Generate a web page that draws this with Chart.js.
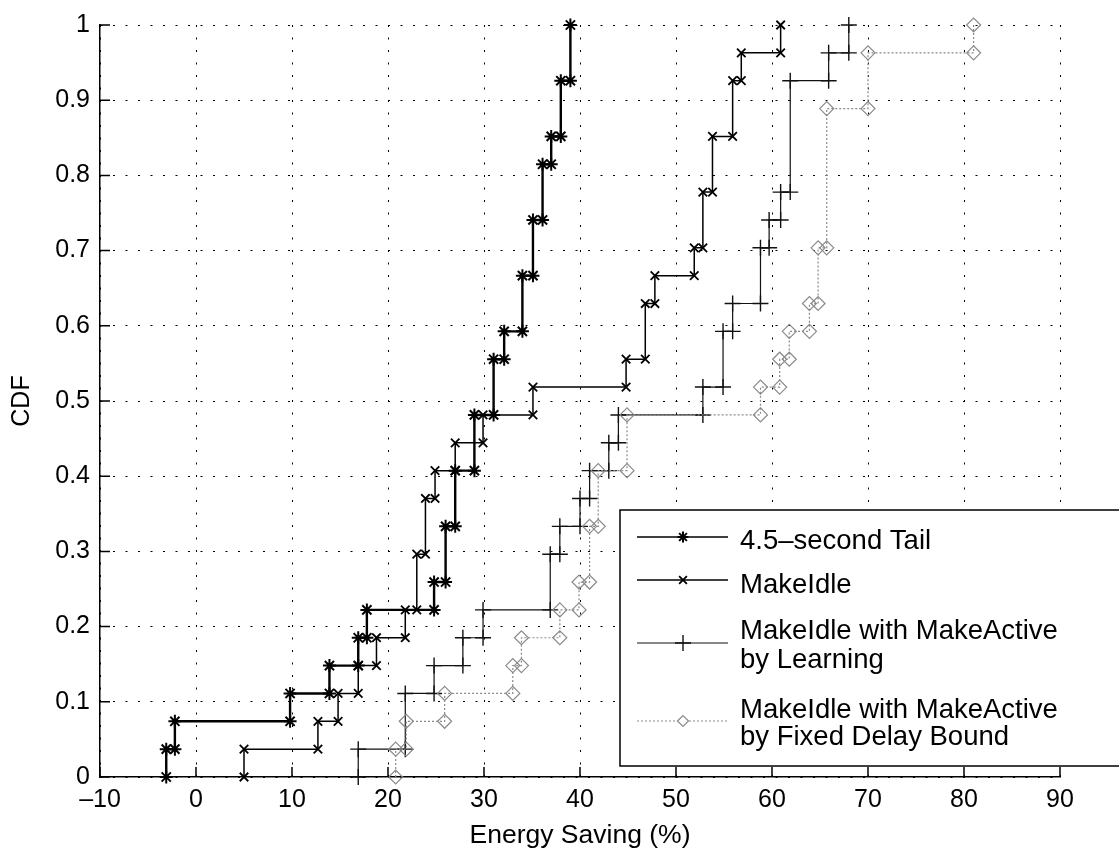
<!DOCTYPE html>
<html>
<head>
<meta charset="utf-8">
<title>CDF of Energy Saving</title>
<script src="https://cdn.jsdelivr.net/npm/chart.js@4"></script>
<style>
  html, body { margin: 0; padding: 0; background: #fff; }
  canvas { display: block; }
</style>
</head>
<body>
<canvas id="cdfChart" width="1119" height="853"></canvas>
<script>
// energy saving samples (%) per scheme, 27 runs each
const tailSaving = [-3.1, -2.2, 9.8, 13.9, 16.9, 17.8, 24.8, 26, 26, 27, 27, 29, 29, 31, 31,
    32.1, 34, 34, 35.1, 35.1, 36.1, 36.1, 37, 38, 38, 39, 39];
const makeIdleSaving = [5, 12.7, 14.8, 16.9, 18.8, 21.8, 23, 23, 23.9, 23.9, 24.9, 27, 29.9,
    35.1, 44.8, 46.8, 46.8, 47.8, 51.9, 52.8, 52.8, 53.8, 53.8, 55.9, 55.9, 56.8, 60.9];
const learningSaving = [16.9, 21.8, 21.8, 24.8, 27.8, 29.9, 36.9, 36.9, 37.9, 40, 41, 43, 44,
    52.8, 54.9, 54.9, 55.9, 58.8, 58.8, 59.7, 60.9, 61.9, 61.9, 61.9, 61.9, 65.9, 68];
const fixedSaving = [20.8, 21.9, 25.9, 33, 33.9, 37.9, 39.9, 41, 41, 41.9, 41.9, 44.9, 44.9,
    58.8, 60.8, 61.8, 63.9, 64.8, 64.8, 65.7, 65.7, 65.7, 65.7, 65.7, 70, 70, 81];

const seriesNames = [
    ['4.5\u2013second Tail'],
    ['MakeIdle'],
    ['MakeIdle with MakeActive', 'by Learning'],
    ['MakeIdle with MakeActive', 'by Fixed Delay Bound']
];

const xTickLabels = ['\u201310', '0', '10', '20', '30', '40', '50', '60', '70', '80', '90'];
const yTickLabels = ['0', '0.1', '0.2', '0.3', '0.4', '0.5', '0.6', '0.7', '0.8', '0.9', '1'];

const FONT = "'Liberation Sans', Arial, Helvetica, sans-serif";

// empirical cdf as stair vertices, like matlab cdfplot
function cdfSteps(samples) {
    const xs = [...samples].sort((a, b) => a - b);
    const n = xs.length;
    const pts = [];
    let prev = 0;
    for (let i = 0; i < n; i++) {
        if (i < n - 1 && xs[i + 1] === xs[i]) continue;
        const f = (i + 1) / n;
        pts.push({ x: xs[i], y: prev }, { x: xs[i], y: f });
        prev = f;
    }
    return pts;
}

const seriesStyles = [
    { color: '#000000', point: 'star', radius: 6.5, pointWidth: 2, lineWidth: 2.4, dash: [] },
    { color: '#000000', point: 'crossRot', radius: 6, pointWidth: 1.8, lineWidth: 1.5, dash: [] },
    { color: '#111111', point: 'cross', radius: 8, pointWidth: 1.4, lineWidth: 1.2, dash: [] },
    { color: '#8a8a8a', point: 'rectRot', radius: 7, pointWidth: 1.2, lineWidth: 1.2, dash: [2, 2] }
];

const allSamples = [tailSaving, makeIdleSaving, learningSaving, fixedSaving];

const datasets = allSamples.map((s, i) => {
    const st = seriesStyles[i];
    return {
        label: seriesNames[i].join(' '),
        data: cdfSteps(s),
        showLine: true,
        borderColor: st.color,
        borderWidth: st.lineWidth,
        borderDash: st.dash,
        pointStyle: st.point,
        pointRadius: st.radius,
        pointBorderColor: st.color,
        pointBackgroundColor: 'rgba(0,0,0,0)',
        pointBorderWidth: st.pointWidth,
        clip: false,
        order: 3 - i
    };
});

// matlab style ticks pointing into the plot
const innerTicks = {
    id: 'innerTicks',
    afterDatasetsDraw(chart) {
        const { ctx, chartArea, scales: { x, y } } = chart;
        ctx.save();
        ctx.strokeStyle = '#000';
        ctx.lineWidth = 1.5;
        ctx.beginPath();
        x.ticks.forEach((t, i) => {
            const px = x.getPixelForTick(i);
            ctx.moveTo(px, chartArea.bottom);
            ctx.lineTo(px, chartArea.bottom - 10);
        });
        y.ticks.forEach((t, i) => {
            const py = y.getPixelForTick(i);
            ctx.moveTo(chartArea.left, py);
            ctx.lineTo(chartArea.left + 10, py);
        });
        ctx.stroke();
        ctx.restore();
    }
};

// boxed legend in the lower right, multi line entries
const boxLegend = {
    id: 'boxLegend',
    afterDraw(chart) {
        const ctx = chart.ctx;
        const box = { left: 620, top: 510, right: 1130, bottom: 766 };
        const rows = [
            { lineY: 537, textY: [541] },
            { lineY: 580, textY: [585] },
            { lineY: 643, textY: [631, 660] },
            { lineY: 721, textY: [710, 737] }
        ];
        ctx.save();
        ctx.fillStyle = '#fff';
        ctx.fillRect(box.left, box.top, box.right - box.left, box.bottom - box.top);
        ctx.strokeStyle = '#000';
        ctx.lineWidth = 1.5;
        ctx.strokeRect(box.left, box.top, box.right - box.left, box.bottom - box.top);

        rows.forEach((row, i) => {
            const ds = chart.data.datasets[i];
            ctx.save();
            ctx.strokeStyle = ds.borderColor;
            ctx.lineWidth = Math.min(ds.borderWidth, 1.5);
            ctx.setLineDash(ds.borderDash || []);
            ctx.beginPath();
            ctx.moveTo(637, row.lineY);
            ctx.lineTo(728, row.lineY);
            ctx.stroke();
            ctx.restore();

            ctx.save();
            ctx.strokeStyle = ds.pointBorderColor;
            ctx.fillStyle = '#fff';
            ctx.lineWidth = ds.pointBorderWidth;
            Chart.helpers.drawPoint(ctx, {
                pointStyle: ds.pointStyle,
                radius: ds.pointStyle === 'cross' ? 8 : 5.5,
                borderWidth: ds.pointBorderWidth,
                rotation: 0
            }, 683, row.lineY);
            ctx.restore();

            ctx.fillStyle = '#000';
            ctx.font = '27.5px ' + FONT;
            ctx.textAlign = 'left';
            ctx.textBaseline = 'middle';
            seriesNames[i].forEach((t, j) => ctx.fillText(t, 740, row.textY[j]));
        });
        ctx.restore();
    }
};

new Chart(document.getElementById('cdfChart'), {
    type: 'scatter',
    data: { datasets },
    options: {
        responsive: false,
        animation: false,
        events: [],
        layout: { padding: { top: 20, right: 59, bottom: 0, left: 0 } },
        plugins: {
            legend: { display: false },
            tooltip: { enabled: false }
        },
        scales: {
            x: {
                type: 'linear',
                min: -10,
                max: 90,
                afterFit: scale => { scale.height = 76; },
                ticks: {
                    stepSize: 10,
                    color: '#000',
                    padding: 8,
                    maxRotation: 0,
                    font: { family: FONT, size: 25 },
                    callback: (v, i) => xTickLabels[i]
                },
                grid: { color: '#000', lineWidth: 1, drawTicks: false },
                border: { display: true, color: '#000', width: 1.5, dash: [2, 10.5] },
                title: {
                    display: true,
                    text: 'Energy Saving (%)',
                    color: '#000',
                    font: { family: FONT, size: 26.5 },
                    padding: { top: 0, bottom: 1 }
                }
            },
            y: {
                type: 'linear',
                min: 0,
                max: 1,
                afterFit: scale => { scale.width = 100; },
                ticks: {
                    stepSize: 0.1,
                    color: '#000',
                    padding: 10,
                    font: { family: FONT, size: 25 },
                    callback: (v, i) => yTickLabels[i]
                },
                grid: { color: '#000', lineWidth: 1, drawTicks: false },
                border: { display: true, color: '#000', width: 1.5, dash: [2, 10.5] },
                title: {
                    display: true,
                    text: 'CDF',
                    color: '#000',
                    font: { family: FONT, size: 25 },
                    padding: { top: 7, bottom: 0 }
                }
            }
        }
    },
    plugins: [innerTicks, boxLegend]
});
</script>
</body>
</html>
